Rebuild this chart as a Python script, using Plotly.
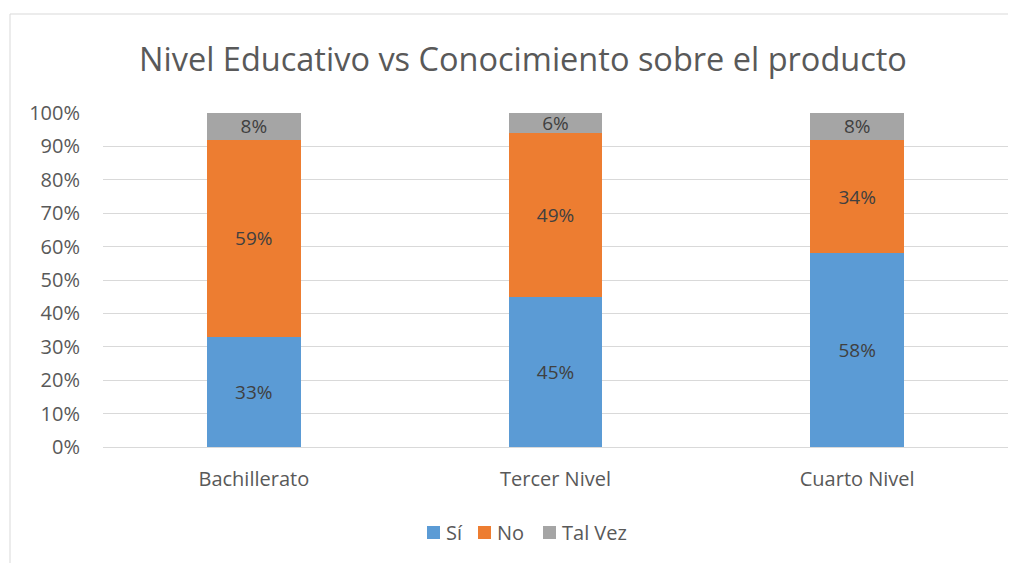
import plotly.graph_objects as go

categories = ["Bachillerato", "Tercer Nivel", "Cuarto Nivel"]
si = [33, 45, 58]
no = [59, 49, 34]
tal_vez = [8, 6, 8]

series_names = ["Sí", "No", "Tal Vez"]
series_colors = ["#5b9bd5", "#ed7d31", "#a5a5a5"]

FONT = "Open Sans"
TXT = "#595959"

fig = go.Figure()
for name, vals, col in zip(series_names, [si, no, tal_vez], series_colors):
    fig.add_trace(go.Bar(
        x=categories, y=vals, name=name, marker=dict(color=col, line=dict(width=0)),
        texttemplate="%{y}", textposition="inside", insidetextanchor="middle",
        constraintext="none",
        textfont=dict(family=FONT, size=19, color="#404040"), textangle=0,
        hoverinfo="skip", showlegend=False,
    ))

OFF = 8  # body margin of the html page
W, H = 1021 - OFF, 563 - OFF
L, R, T, B = 95, 13, 105, 116
pw, ph = W - L - R, H - T - B

def px_x(x):
    return (x - OFF - L) / pw

def px_y(y):
    return (H - B - (y - OFF)) / ph

shapes = [
    dict(type="line", xref="paper", yref="paper", x0=px_x(10), x1=px_x(1008), y0=px_y(14), y1=px_y(14),
         line=dict(color="#d9d9d9", width=1)),
    dict(type="line", xref="paper", yref="paper", x0=px_x(10), x1=px_x(10), y0=px_y(14), y1=px_y(570),
         line=dict(color="#d9d9d9", width=1)),
]
annotations = []
legend_sq_x = [427, 478, 543]
for nm, col, sx in zip(series_names, series_colors, legend_sq_x):
    shapes.append(dict(type="rect", xref="paper", yref="paper",
                       x0=px_x(sx), x1=px_x(sx + 13), y0=px_y(539), y1=px_y(526),
                       fillcolor=col, line=dict(width=0)))
    annotations.append(dict(text=nm, xref="paper", yref="paper", x=px_x(sx + 17), y=px_y(532),
                            xanchor="left", yanchor="middle", showarrow=False,
                            font=dict(family=FONT, size=20, color=TXT)))

fig.update_layout(
    width=W, height=H,
    barmode="stack", bargap=0.69,
    paper_bgcolor="white", plot_bgcolor="white",
    margin=dict(l=L, r=R, t=T, b=B),
    title=dict(text="Nivel Educativo vs Conocimiento sobre el producto",
               x=px_x(523), xref="paper", xanchor="center",
               y=1 - (60 - OFF) / H, yanchor="middle",
               font=dict(family=FONT, size=32.5, color=TXT)),
    font=dict(family=FONT, color=TXT),
    showlegend=False,
    xaxis=dict(showgrid=False, showline=False, ticks="", ticklabelstandoff=18,
               tickfont=dict(family=FONT, size=20, color=TXT)),
    yaxis=dict(range=[0, 100], dtick=10, ticksuffix="%", showgrid=True, gridcolor="#d9d9d9",
               gridwidth=1, zeroline=True, zerolinecolor="#d9d9d9", zerolinewidth=1,
               tickfont=dict(family=FONT, size=20, color=TXT), ticklabelstandoff=22),
    shapes=shapes,
    annotations=annotations,
)

fig.write_html("out.html")
